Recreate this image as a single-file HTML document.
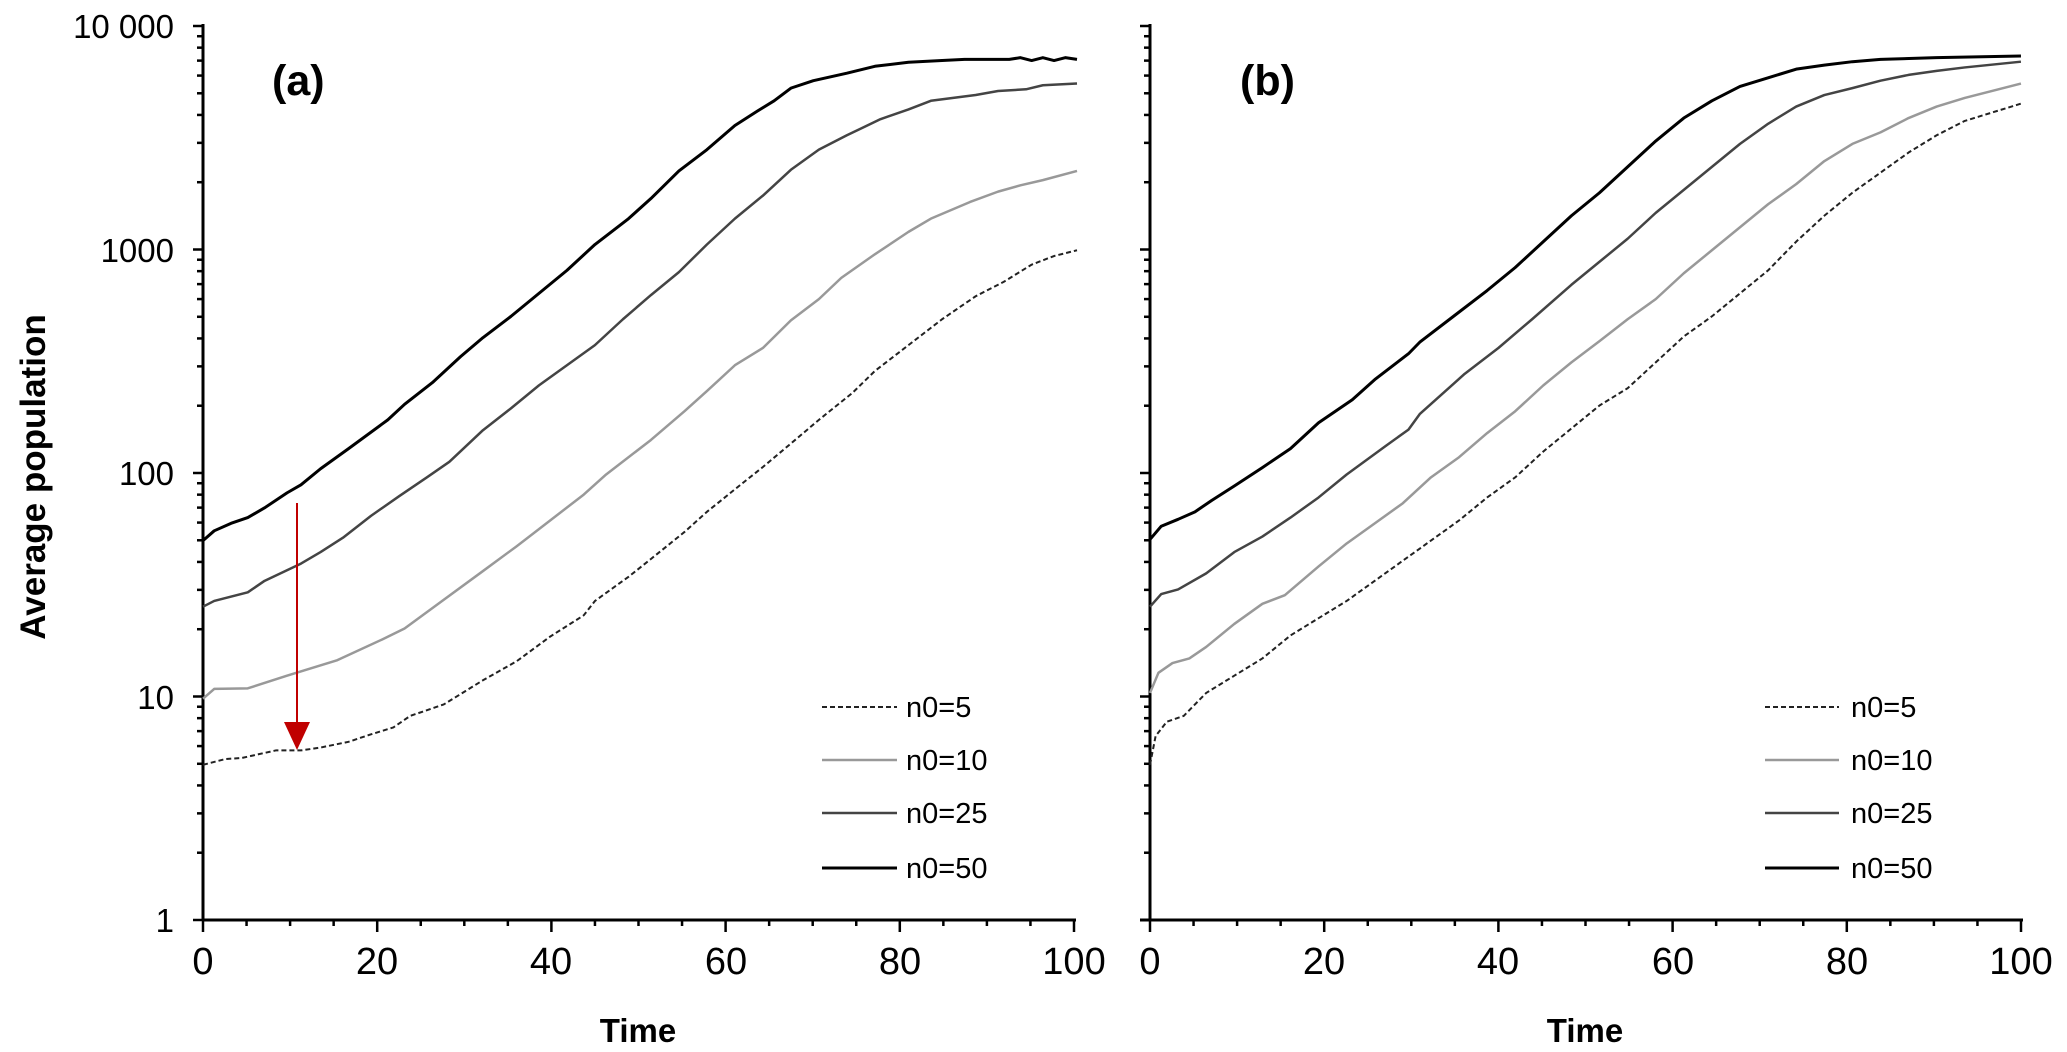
<!DOCTYPE html>
<html><head><meta charset="utf-8"><style>
html,body{margin:0;padding:0;background:#fff}
svg{display:block;font-family:"Liberation Sans",Arial,sans-serif}
</style></head><body>
<svg width="2067" height="1052" viewBox="0 0 2067 1052" xmlns="http://www.w3.org/2000/svg">
<g stroke="#000" stroke-width="3" fill="none">
<line x1="203" y1="24" x2="203" y2="921"/>
<line x1="202" y1="920" x2="1076" y2="920"/>
<line x1="1150" y1="24" x2="1150" y2="921"/>
<line x1="1140" y1="920" x2="2023" y2="920"/>
</g>
<g id="ticks" stroke="#000" stroke-width="2.5"></g>
<g font-size="33" text-anchor="end" fill="#000">
<text x="174" y="38">10 000</text>
<text x="174" y="262">1000</text>
<text x="174" y="485">100</text>
<text x="174" y="709">10</text>
<text x="174" y="932">1</text>
</g>
<g font-size="38" text-anchor="middle" fill="#000">
<text x="203" y="974">0</text><text x="377" y="974">20</text><text x="551" y="974">40</text><text x="726" y="974">60</text><text x="900" y="974">80</text><text x="1074" y="974">100</text>
<text x="1150" y="974">0</text><text x="1324" y="974">20</text><text x="1498" y="974">40</text><text x="1673" y="974">60</text><text x="1847" y="974">80</text><text x="2021" y="974">100</text>
</g>
<g font-size="33" font-weight="bold" text-anchor="middle" fill="#000">
<text x="638" y="1042">Time</text>
<text x="1585" y="1042">Time</text>
<text font-size="35" transform="translate(45,477) rotate(-90)">Average population</text>
</g>
<g font-size="43" font-weight="bold" fill="#000">
<text x="272" y="95">(a)</text>
<text x="1240" y="95">(b)</text>
</g>
<g fill="none" stroke-linejoin="round">
<g transform="translate(203,20.3) scale(0.5599,0.5749)">
<polyline vector-effect="non-scaling-stroke" stroke="#000" stroke-width="3" points="0,905 20,888 50,875 80,865 110,848 150,822 175,808 210,780 260,745 330,695 360,668 410,630 460,585 500,552 550,515 600,475 650,435 700,390 720,375 760,345 800,310 850,262 900,225 950,183 990,158 1020,140 1050,118 1090,105 1150,92 1200,80 1260,73 1320,70 1360,68 1440,68 1460,65 1480,70 1500,65 1520,70 1540,65 1561,68"/>
<polyline vector-effect="non-scaling-stroke" stroke="#444" stroke-width="2.5" points="0,1020 20,1010 80,995 110,975 175,945 210,925 250,900 300,862 350,828 400,795 440,768 500,713 550,675 600,635 650,600 700,565 750,520 800,478 850,438 900,390 950,345 1000,305 1050,260 1100,225 1150,200 1210,172 1260,155 1300,140 1380,130 1420,123 1470,120 1500,113 1561,110"/>
<polyline vector-effect="non-scaling-stroke" stroke="#999" stroke-width="2.5" points="0,1180 20,1163 80,1162 150,1140 240,1113 320,1077 360,1058 420,1015 500,958 560,915 600,885 680,825 720,790 800,730 860,680 900,645 950,600 1000,570 1050,522 1100,485 1140,448 1200,407 1260,368 1300,345 1370,316 1420,298 1460,287 1500,278 1561,262"/>
<polyline vector-effect="non-scaling-stroke" stroke="#222" stroke-width="2" stroke-dasharray="5,3" points="0,1295 40,1285 70,1283 130,1270 175,1270 210,1265 260,1255 300,1242 340,1230 370,1210 430,1190 500,1148 560,1115 620,1072 680,1035 700,1010 760,968 800,937 860,890 900,855 960,808 1000,777 1060,728 1100,695 1160,648 1200,610 1260,565 1320,520 1380,480 1430,455 1480,425 1520,410 1561,400"/>
</g>
<g transform="translate(1150,20.3) scale(0.5619,0.5749)">
<polyline vector-effect="non-scaling-stroke" stroke="#000" stroke-width="3" points="0,903 20,880 50,868 80,855 110,835 150,810 200,778 250,745 300,700 360,660 400,625 460,580 480,560 540,515 600,470 650,430 700,385 750,340 800,300 850,255 900,210 950,170 1000,140 1050,115 1100,100 1150,85 1200,78 1250,72 1300,68 1400,65 1550,62"/>
<polyline vector-effect="non-scaling-stroke" stroke="#444" stroke-width="2.5" points="0,1020 20,998 50,990 100,962 150,925 200,898 250,865 300,830 350,790 420,740 460,712 480,685 560,615 620,570 680,520 750,460 800,420 850,380 900,335 950,295 1000,255 1050,215 1100,180 1150,150 1200,130 1250,118 1300,105 1350,95 1400,88 1450,82 1550,72"/>
<polyline vector-effect="non-scaling-stroke" stroke="#999" stroke-width="2.5" points="0,1170 15,1135 40,1118 70,1110 100,1090 150,1050 200,1015 240,1000 300,950 350,910 400,875 450,840 500,795 550,760 600,718 650,680 700,635 750,595 800,558 850,520 900,485 950,440 1000,400 1050,360 1100,320 1150,285 1200,245 1250,215 1300,195 1350,170 1400,150 1450,135 1550,110"/>
<polyline vector-effect="non-scaling-stroke" stroke="#222" stroke-width="2" stroke-dasharray="5,3" points="0,1295 10,1245 30,1220 60,1210 100,1170 150,1140 200,1110 250,1070 300,1040 350,1010 400,975 450,940 500,905 550,870 600,830 650,795 700,750 750,710 800,670 850,640 900,595 950,550 1000,515 1050,475 1100,435 1150,385 1200,340 1250,300 1300,265 1350,230 1400,200 1450,175 1500,160 1550,145"/>
</g>
</g>
<line x1="297" y1="503" x2="297" y2="725" stroke="#c00000" stroke-width="2"/>
<polygon points="284,722 310,722 297,750" fill="#c00000"/>
<g font-size="29" fill="#000">
<line x1="822" y1="707" x2="897" y2="707" stroke="#222" stroke-width="2" stroke-dasharray="5,3"/>
<line x1="822" y1="760" x2="897" y2="760" stroke="#999" stroke-width="2.5"/>
<line x1="822" y1="813" x2="897" y2="813" stroke="#444" stroke-width="2.5"/>
<line x1="822" y1="868" x2="897" y2="868" stroke="#000" stroke-width="3"/>
<text x="906" y="717">n0=5</text><text x="906" y="770">n0=10</text><text x="906" y="823">n0=25</text><text x="906" y="878">n0=50</text>
<line x1="1765" y1="707" x2="1839" y2="707" stroke="#222" stroke-width="2" stroke-dasharray="5,3"/>
<line x1="1765" y1="760" x2="1839" y2="760" stroke="#999" stroke-width="2.5"/>
<line x1="1765" y1="813" x2="1839" y2="813" stroke="#444" stroke-width="2.5"/>
<line x1="1765" y1="868" x2="1839" y2="868" stroke="#000" stroke-width="3"/>
<text x="1851" y="717">n0=5</text><text x="1851" y="770">n0=10</text><text x="1851" y="823">n0=25</text><text x="1851" y="878">n0=50</text>
</g>
<script>
(function(){
var g=document.getElementById('ticks'),ns='http://www.w3.org/2000/svg';
function L(a,b,c,d){var l=document.createElementNS(ns,'line');l.setAttribute('x1',a);l.setAttribute('y1',b);l.setAttribute('x2',c);l.setAttribute('y2',d);g.appendChild(l);}
var bot=920,dec=223.5;
[203,1150].forEach(function(ax){
for(var d=0;d<4;d++){for(var m=1;m<10;m++){var y=bot-(d+Math.log10(m))*dec;L(ax-(m==1?10:6),y,ax,y);}}
L(ax-10,bot-4*dec,ax,bot-4*dec);
for(var t=0;t<=100;t+=5){var x=ax+t*8.71;L(x,bot,x,bot+(t%20==0?12:6));}
});
})();
</script>
</svg>
</body></html>
